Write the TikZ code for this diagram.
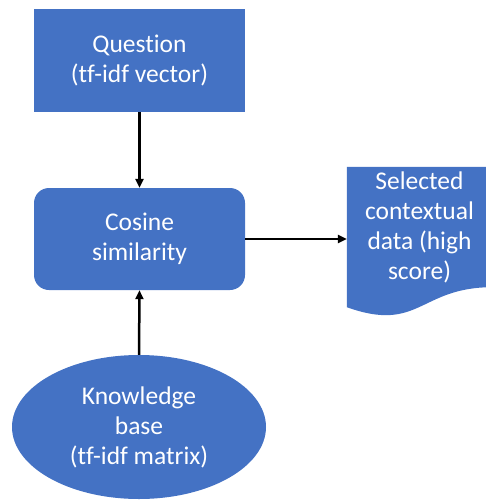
\documentclass[tikz,border=0pt]{standalone}
\usepackage{fontspec}
\setmainfont{Carlito}[Ligatures={NoCommon,NoRequired,NoContextual}]
\usetikzlibrary{shapes.geometric,arrows.meta}
\definecolor{boxblue}{HTML}{4472C4}
\tikzset{
  label text/.style={text=white, align=center, font=\fontsize{25.5}{30}\selectfont},
  blockbox/.style={label text, fill=boxblue, rectangle, inner sep=0pt,
    minimum width=211pt},
  roundbox/.style={blockbox, rounded corners=15pt},
  database/.style={label text, fill=boxblue, ellipse, inner sep=0pt,
    minimum width=254pt, minimum height=144pt},
  doctext/.style={label text, rectangle, inner sep=0pt,
    minimum width=145pt, minimum height=120pt},
  flow/.style={line width=2.5pt, -{Triangle[length=9pt,width=8pt]}}
}
\begin{document}
\begin{tikzpicture}[x=1pt,y=-1pt]
  \useasboundingbox (0,0) rectangle (486,500);

  % query and similarity stages
  \node[blockbox, minimum height=103pt] (question) at (139.5,60.5)
    {Question\\(tf-idf vector)};
  \node[roundbox, minimum height=102pt] (cosine) at (139.5,239)
    {Cosine\\similarity};

  % knowledge base
  \node[database] (kb) at (139,427)
    {Knowledge\\base\\(tf-idf matrix)};

  % output document with wavy bottom edge
  \node[doctext] (doc) at (419.5,227) {};
  \fill[boxblue] (doc.north west) -- (doc.north east) -- (doc.south east)
    .. controls (doc.south) and ([yshift=-46pt]doc.south)
    .. ([yshift=-20pt]doc.south west) -- cycle;
  \node[label text] at (doc.center) {Selected\\contextual\\data (high\\score)};

  % connectors
  \draw[flow] (question.south) -- (cosine.north);
  \draw[flow] (kb.north) -- (cosine.south);
  \draw[flow] (cosine.east) -- (cosine.east -| doc.west);
\end{tikzpicture}
\end{document}
